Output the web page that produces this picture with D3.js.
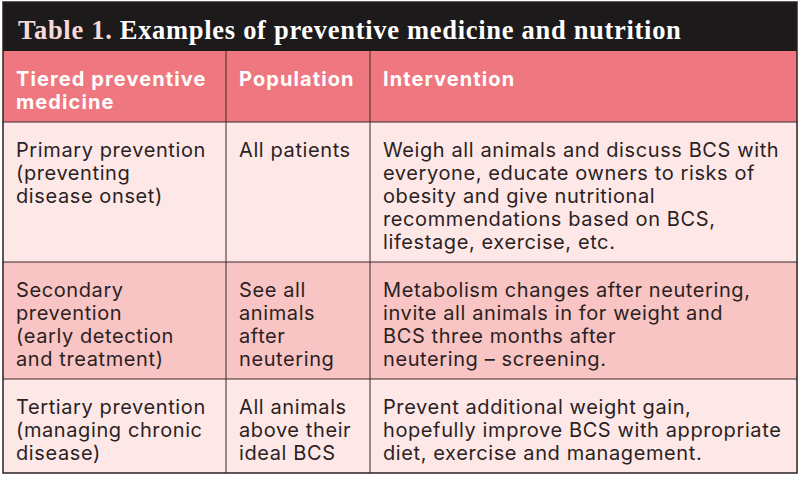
<!DOCTYPE html>
<html>
<head>
<meta charset="utf-8">
<script src="https://cdn.jsdelivr.net/npm/d3@7"></script>
<style>
  body { margin: 0; background: #fff; }
  svg { display: block; }
</style>
</head>
<body>
<svg id="chart" width="800" height="479"></svg>
<script>
// Table content
const titleLabel = "Table 1.";
const titleText = " Examples of preventive medicine and nutrition";

const headers = [
  ["Tiered preventive", "medicine"],
  ["Population"],
  ["Intervention"]
];

const tierCol = [
  ["Primary prevention", "(preventing", "disease onset)"],
  ["Secondary", "prevention", "(early detection", "and treatment)"],
  ["Tertiary prevention", "(managing chronic", "disease)"]
];

const populationCol = [
  ["All patients"],
  ["See all", "animals", "after", "neutering"],
  ["All animals", "above their", "ideal BCS"]
];

const interventionCol = [
  ["Weigh all animals and discuss BCS with", "everyone, educate owners to risks of",
   "obesity and give nutritional", "recommendations based on BCS,", "lifestage, exercise, etc."],
  ["Metabolism changes after neutering,", "invite all animals in for weight and",
   "BCS three months after", "neutering \u2013 screening."],
  ["Prevent additional weight gain,", "hopefully improve BCS with appropriate",
   "diet, exercise and management."]
];

const rowFills = ["#fde7e7", "#f8c4c4", "#fde7e7"];

// layout
const tblLeft = 3, tblRight = 797, tblTop = 2, titleH = 49;
const colEdges = [tblLeft, 226, 370, tblRight];
const lineH = 23, padY = 25, baseOff = 35, padX = 13;

const svg = d3.select("#chart");

// build rows from data
let rows = [{cells: headers, header: true}];
tierCol.forEach((t, i) => rows.push({cells: [t, populationCol[i], interventionCol[i]], fill: rowFills[i]}));

let y0 = tblTop + titleH;
rows.forEach(r => {
  r.lines = d3.max(r.cells, c => c.length);
  r.y = y0;
  r.h = r.lines * lineH + padY;
  y0 += r.h;
});
const tblBottom = y0;

// title bar
svg.append("rect")
  .attr("x", tblLeft).attr("y", tblTop)
  .attr("width", tblRight - tblLeft).attr("height", titleH)
  .attr("fill", "#1c1a1a");

const title = svg.append("text")
  .attr("x", 18).attr("y", tblTop + 37)
  .attr("font-family", "'Liberation Serif', serif")
  .attr("font-weight", "bold")
  .attr("font-size", 26.5)
  .attr("letter-spacing", 0.7);
title.append("tspan").attr("fill", "#f6d9d9").text(titleLabel);
title.append("tspan").attr("fill", "#ffffff").text(titleText);

// row backgrounds
svg.selectAll("rect.row")
  .data(rows)
  .join("rect")
  .attr("class", "row")
  .attr("x", tblLeft).attr("y", d => d.y)
  .attr("width", tblRight - tblLeft).attr("height", d => d.h)
  .attr("fill", d => d.header ? "#ef7880" : d.fill);

// cell text
rows.forEach(r => {
  r.cells.forEach((lines, ci) => {
    const t = svg.append("text")
      .attr("font-family", "Inter, 'Open Sans', sans-serif")
      .attr("font-size", 20)
      .attr("font-weight", r.header ? 700 : 400)
      .attr("letter-spacing", r.header ? 1.1 : 0.6)
      .attr("fill", r.header ? "#ffffff" : "#2b1f1f");
    t.selectAll("tspan")
      .data(lines)
      .join("tspan")
      .attr("x", colEdges[ci] + padX)
      .attr("y", (d, i) => r.y + baseOff + i * lineH)
      .text(d => d);
  });
});

// grid lines
const lineColor = "#3b2b2b";
svg.selectAll("line.h")
  .data(rows.slice(1))
  .join("line")
  .attr("x1", tblLeft).attr("x2", tblRight)
  .attr("y1", d => d.y).attr("y2", d => d.y)
  .attr("stroke", lineColor).attr("stroke-width", 1);

svg.selectAll("line.v")
  .data(colEdges.slice(1, -1))
  .join("line")
  .attr("x1", d => d).attr("x2", d => d)
  .attr("y1", tblTop + titleH).attr("y2", tblBottom)
  .attr("stroke", lineColor).attr("stroke-width", 1);

svg.append("rect")
  .attr("x", tblLeft).attr("y", tblTop)
  .attr("width", tblRight - tblLeft).attr("height", tblBottom - tblTop)
  .attr("fill", "none")
  .attr("stroke", "#2a2222").attr("stroke-width", 1.5);
</script>
</body>
</html>
